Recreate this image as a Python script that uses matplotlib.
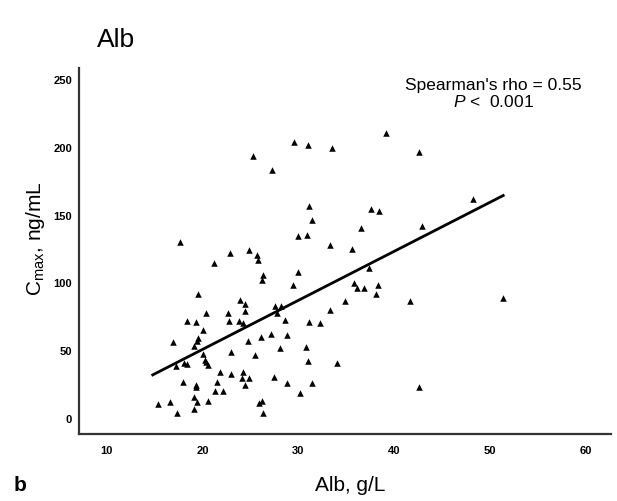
import matplotlib
matplotlib.use('Agg')
import matplotlib.pyplot as plt

# Alb (g/L) vs Cmax (ng/mL)
alb = [25.3, 17.6, 22.9, 24.9, 21.2, 25.7, 25.8, 19.5, 23.9, 24.4,
       20.4, 22.7, 24.4, 18.4, 19.3, 22.8, 23.8, 24.2, 20.1, 16.9,
       19.5, 19.4, 19.1, 24.8, 23.0, 25.5, 20.0, 20.3, 20.4, 20.6,
       17.2, 18.1, 18.4, 21.8, 23.0, 24.2, 24.1, 24.9, 18.0, 19.3,
       19.3, 21.5, 24.4, 21.3, 22.1, 19.1, 19.4, 20.6, 15.4, 16.6,
       17.3, 19.1, 39.2, 29.6, 31.0, 33.5, 42.6, 27.3, 31.1, 31.4,
       37.6, 38.4, 36.5, 42.9, 30.0, 30.9, 33.3, 35.6, 26.3, 26.2,
       30.0, 37.4, 29.5, 35.8, 36.1, 36.9, 38.3, 38.1, 41.7, 34.9,
       33.3, 27.6, 28.2, 27.8, 28.6, 31.1, 32.3, 26.1, 27.1, 28.8,
       28.1, 30.8, 31.0, 34.0, 27.5, 28.8, 31.4, 30.2, 25.9, 26.2,
       26.3, 42.6, 48.2, 51.4]
cmax = [193.3, 129.9, 121.8, 124.0, 114.4, 120.3, 116.7, 91.6, 87.2, 84.2,
        77.6, 77.6, 79.1, 71.7, 71.0, 71.7, 71.7, 70.2, 65.1, 56.2,
        59.2, 57.0, 53.3, 57.0, 48.9, 46.6, 47.4, 43.0, 41.5, 39.3,
        38.6, 40.8, 40.0, 34.1, 32.6, 34.1, 29.7, 29.7, 26.8, 24.6,
        23.1, 26.8, 24.6, 20.1, 20.1, 15.7, 12.0, 12.7, 10.5, 12.0,
        3.9, 6.9, 210.2, 203.6, 201.4, 199.1, 196.0, 183.0, 156.4, 146.1,
        154.2, 152.7, 140.2, 141.6, 134.5, 135.3, 127.9, 124.9, 105.6, 101.9,
        107.9, 110.4, 98.5, 99.3, 96.3, 95.6, 97.8, 91.2, 86.4, 86.4,
        79.8, 82.8, 82.8, 77.6, 72.4, 71.0, 70.2, 59.9, 62.1, 61.4,
        51.8, 52.5, 42.2, 40.8, 30.4, 26.0, 26.0, 18.6, 11.3, 12.7,
        3.9, 23.1, 161.5, 88.5]

# fitted line
fit_x = [14.8, 51.4]
fit_y = [32.0, 164.0]

xticks = [10, 20, 30, 40, 50, 60]
yticks = [0, 50, 100, 150, 200, 250]

plt.rcParams['font.family'] = ['Liberation Sans', 'DejaVu Sans']
plt.rcParams['mathtext.fontset'] = 'custom'
plt.rcParams['mathtext.rm'] = 'Liberation Sans'
plt.rcParams['mathtext.it'] = 'Liberation Sans:italic'

fig = plt.figure(figsize=(6.17, 5.02), dpi=100)
ax = fig.add_axes([0.128, 0.134, 0.863, 0.729])

ax.scatter(alb, cmax, marker='^', s=22, color='black', linewidths=0, zorder=3)
ax.plot(fit_x, fit_y, color='black', lw=2)

ax.set_xlim(7.1, 62.7)
ax.set_ylim(-11.3, 258)
ax.set_xticks(xticks)
ax.set_yticks(yticks)
ax.tick_params(axis='x', length=0, pad=8)
ax.tick_params(axis='y', length=0, pad=5)
for lab in ax.get_xticklabels() + ax.get_yticklabels():
    lab.set_fontweight('bold')
    lab.set_fontsize(8)

for s in ['top', 'right']:
    ax.spines[s].set_visible(False)
for s in ['left', 'bottom']:
    ax.spines[s].set_linewidth(1.6)
    ax.spines[s].set_color('#333333')

ax.text(0.779, 0.953, "Spearman's rho = 0.55", transform=ax.transAxes,
        ha='center', va='center', fontsize=12.5)
ax.text(0.779, 0.91, r"$\it{P}$ <  0.001", transform=ax.transAxes,
        ha='center', va='center', fontsize=12.5)

fig.text(0.157, 0.92, 'Alb', fontsize=19, ha='left', va='center')
fig.text(0.058, 0.525, r'C$_{\rm max}$, ng/mL', fontsize=15, rotation=90,
         ha='center', va='center')
fig.text(0.567, 0.032, 'Alb, g/L', fontsize=15, ha='center', va='center')
fig.text(0.022, 0.032, 'b', fontsize=15, fontweight='bold', ha='left', va='center')

fig.savefig('out.png', dpi=100)
